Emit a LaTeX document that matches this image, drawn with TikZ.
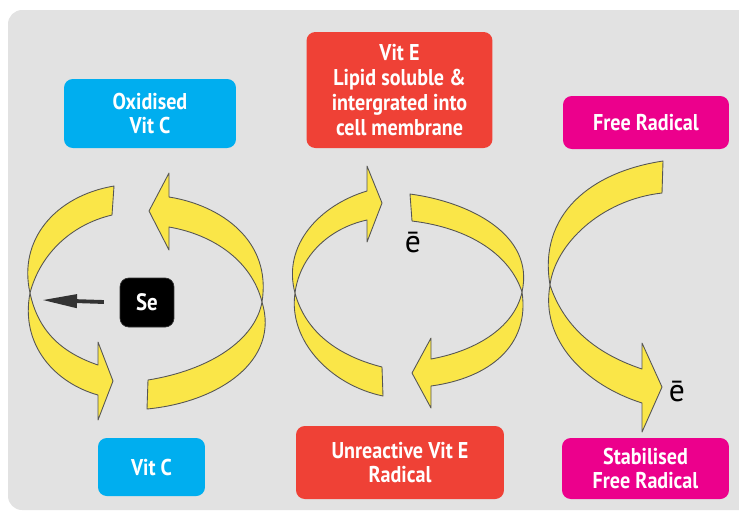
\documentclass[tikz,border=0pt]{standalone}
\usepackage{fontspec}
\setmainfont{PT Sans}
\newfontfamily\boxfont{PT Sans}[FakeStretch=0.88]
\usepackage{tikz}
\usetikzlibrary{arrows.meta}
\definecolor{panelFill}{RGB}{226,226,226}
\definecolor{vitcFill}{RGB}{0,174,239}
\definecolor{viteFill}{RGB}{239,65,54}
\definecolor{radicalFill}{RGB}{236,0,140}
\definecolor{ribbonFill}{RGB}{250,230,72}
\definecolor{ribbonStroke}{RGB}{85,85,85}
\colorlet{ink}{black!80}
\tikzset{
  label box/.style={
    rounded corners=5pt,
    text=white,
    align=center,
    inner sep=0pt,
    font=\boxfont\bfseries\fontsize{13}{14.2}\selectfont
  },
  cyanbox/.style={label box, fill=vitcFill},
  redbox/.style={label box, fill=viteFill},
  pinkbox/.style={label box, fill=radicalFill},
  sebox/.style={label box, fill=black, draw=ink, line width=0.4pt,
    font=\boxfont\bfseries\fontsize{13.5}{14}\selectfont},
  ribbon/.style={fill=ribbonFill, draw=ribbonStroke, line width=0.5pt, line join=round},
  electron/.style={font=\fontsize{18}{18}\selectfont, text=black, inner sep=0pt},
  searrow/.style={-{Triangle[length=7mm,width=2.6mm]}, draw=ink, line width=2.2pt}
}

\begin{document}
\begin{tikzpicture}[x=0.02cm,y=-0.02cm]
  \path[use as bounding box, clip] (0,0) rectangle (739,512);
  \fill[panelFill, rounded corners=8pt] (8,10) rectangle (780,510);

  % vitamin C cycle
  \draw[ribbon] (114,186) .. controls (55,196) and (18,240) .. (30,293)
    .. controls (40,255) and (70,225) .. (112,215) -- cycle;
  \draw[ribbon] (30,293) .. controls (20,345) and (55,383) .. (98,395)
    -- (98,420) -- (113,381) -- (98,342) -- (98,365)
    .. controls (60,352) and (38,330) .. (30,293) -- cycle;
  \draw[ribbon] (149,211) -- (169,173) -- (169,197)
    .. controls (220,205) and (272,240) .. (262,302)
    .. controls (252,262) and (215,235) .. (169,227) -- (169,250) -- cycle;
  \draw[ribbon] (148,380) .. controls (210,370) and (255,340) .. (262,302)
    .. controls (280,360) and (220,402) .. (147,409) -- cycle;

  % vitamin E cycle
  \draw[ribbon] (295,293) .. controls (282,245) and (320,205) .. (367,191)
    -- (367,166) -- (382,203) -- (367,242) -- (367,220)
    .. controls (330,228) and (300,255) .. (295,293) -- cycle;
  \draw[ribbon] (410,194) .. controls (470,202) and (535,235) .. (522,292)
    .. controls (510,255) and (470,228) .. (412,221) -- cycle;
  \draw[ribbon] (295,293) .. controls (288,340) and (330,385) .. (383,396)
    -- (382,367) .. controls (335,355) and (305,330) .. (295,293) -- cycle;
  \draw[ribbon] (522,292) .. controls (530,345) and (490,378) .. (431,386)
    -- (431,408) -- (412,373) -- (431,338) -- (431,359)
    .. controls (480,350) and (515,325) .. (522,292) -- cycle;

  % free radical
  \draw[ribbon] (663,161) .. controls (590,172) and (538,215) .. (550,285)
    .. controls (555,245) and (600,200) .. (662,193) -- cycle;
  \draw[ribbon] (550,285) .. controls (540,340) and (585,385) .. (642,403)
    -- (642,432) -- (662,387) -- (642,343) -- (642,369)
    .. controls (600,355) and (565,330) .. (550,285) -- cycle;

  \node[cyanbox, minimum width=3.44cm, minimum height=1.38cm] (oxvitc) at (150,113.5) {Oxidised\\Vit C};
  \node[redbox, minimum width=3.72cm, minimum height=2.32cm] (vite) at (399.5,90) {Vit E\\Lipid soluble \&\\intergrated into\\cell membrane};
  \node[pinkbox, minimum width=3.32cm, minimum height=1.06cm] (freerad) at (646,122.5) {Free Radical};
  \node[cyanbox, minimum width=2.14cm, minimum height=1.16cm] (vitc) at (151.5,467) {Vit C};
  \node[redbox, minimum width=4.16cm, minimum height=1.46cm] (unreactive) at (400,462.5) {Unreactive Vit E\\Radical};
  \node[pinkbox, minimum width=3.34cm, minimum height=1.22cm] (stabilised) at (645.5,468.5) {Stabilised\\Free Radical};
  \node[sebox, minimum width=1.08cm, minimum height=0.98cm] (se) at (147,302.5) {Se};

  \node[electron] (eVite) at (413,243) {ē};
  \node[electron] (eRadical) at (677,392) {ē};

  \coordinate (seTip) at (42,300);
  \draw[searrow, shorten <=9pt] (se.west) -- (seTip);
\end{tikzpicture}
\end{document}
